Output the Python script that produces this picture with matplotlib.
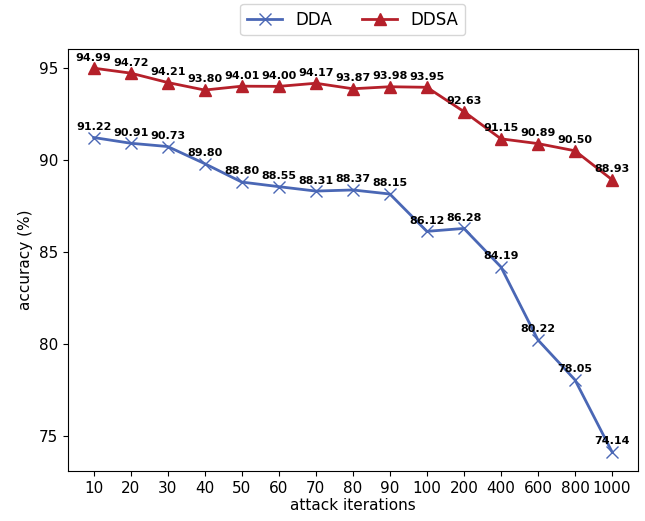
import matplotlib
matplotlib.use("Agg")
import matplotlib.pyplot as plt

# data
iterations = ["10", "20", "30", "40", "50", "60", "70", "80", "90",
              "100", "200", "400", "600", "800", "1000"]
dda = [91.22, 90.91, 90.73, 89.80, 88.80, 88.55, 88.31, 88.37, 88.15,
       86.12, 86.28, 84.19, 80.22, 78.05, 74.14]
ddsa = [94.99, 94.72, 94.21, 93.80, 94.01, 94.00, 94.17, 93.87, 93.98,
        93.95, 92.63, 91.15, 90.89, 90.50, 88.93]

fig = plt.figure(figsize=(6.45, 5.21), dpi=100)
ax = fig.add_axes([0.105, 0.096, 0.884, 0.81])

x = list(range(len(iterations)))
ax.plot(x, dda, color="#4a67b5", marker="x", markersize=8, linewidth=2, label="DDA")
ax.plot(x, ddsa, color="#b5202a", marker="^", markersize=8, linewidth=2, label="DDSA")

# value labels
for xi, v in zip(x, dda):
    ax.annotate(f"{v:.2f}", (xi, v), xytext=(0, 4), textcoords="offset points",
                ha="center", va="bottom", fontsize=8, fontweight="bold")
for xi, v in zip(x, ddsa):
    ax.annotate(f"{v:.2f}", (xi, v), xytext=(0, 4), textcoords="offset points",
                ha="center", va="bottom", fontsize=8, fontweight="bold")

ax.set_xticks(x)
ax.set_xticklabels(iterations)
ax.set_yticks([75, 80, 85, 90, 95])
ax.tick_params(labelsize=11)
ax.set_xlabel("attack iterations", fontsize=11, labelpad=2)
ax.set_ylabel("accuracy (%)", fontsize=11)

fig.legend(loc="center", bbox_to_anchor=(0.547, 0.962), ncol=2, fontsize=12,
           handlelength=2.1, columnspacing=1.8)

fig.savefig("out.png", dpi=100)
